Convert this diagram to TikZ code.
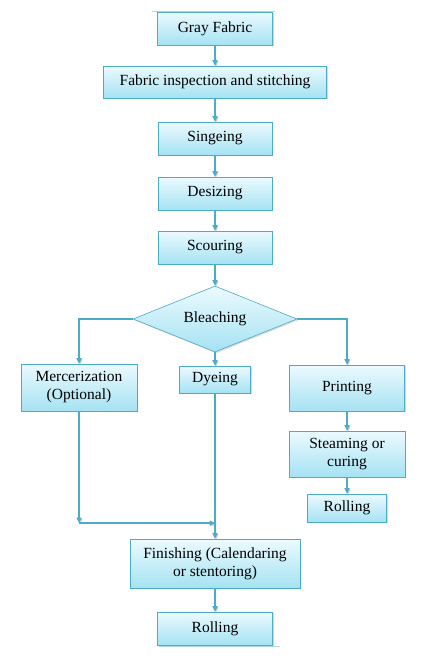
\documentclass[tikz,border=0pt]{standalone}
\usepackage{fontspec}
\setmainfont{Liberation Serif}
\usetikzlibrary{shapes.geometric,shadows,arrows.meta}
\definecolor{edge}{RGB}{75,172,198}
\definecolor{boxtop}{RGB}{236,250,254}
\definecolor{boxbot}{RGB}{165,226,243}
\tikzset{my box/.style args={#1 by #2}{draw=edge,semithick,align=center,top color=boxtop,bottom color=boxbot,inner sep=2pt,font=\fontsize{15.5}{18}\selectfont,drop shadow={shadow xshift=1.2pt,shadow yshift=-1.2pt,opacity=0.3},minimum width=#1,minimum height=#2},
my arrow/.style={-{Triangle[length=5.5pt,width=5pt]},draw=edge,line width=1.1pt,
  preaction={draw=black!22,line width=0.9pt,transform canvas={shift={(0.9pt,-0.9pt)}}}}}

\begin{document}
\begin{tikzpicture}[x=1pt,y=-1pt]
\useasboundingbox (0,0) rectangle (425,667);
\draw[edge!45] (152,11) -- (275,11);
\draw[edge!45] (159,646) -- (280,646);
% main column
\node[my box=115pt by 33pt] (gray) at (215,28.5) {Gray Fabric};
\node[my box=223pt by 32pt] (inspect) at (215,82) {Fabric inspection and stitching};
\node[my box=114pt by 33pt] (singe) at (215,138.5) {Singeing};
\node[my box=114pt by 33pt] (desize) at (215,193.5) {Desizing};
\node[my box=114pt by 33pt] (scour) at (215,247.5) {Scouring};
\node[my box=164pt by 66pt,diamond,aspect=2.5,inner sep=0pt] (bleach) at (215,319) {Bleaching};
% three branches
\node[my box=116pt by 47pt] (merc) at (79,387.5) {Mercerization\\(Optional)};
\node[my box=71pt by 27pt] (dye) at (215,379.5) {Dyeing};
\node[my box=115pt by 46pt] (print) at (347,388) {Printing};
\node[my box=116pt by 46pt] (steam) at (347,454) {Steaming or\\curing};
\node[my box=79pt by 28pt] (rollR) at (347,508) {Rolling};
\node[my box=170pt by 49pt] (finish) at (215,563.5) {Finishing (Calendaring\\or stentoring)};
\node[my box=115pt by 33pt] (roll) at (215,628.5) {Rolling};
\coordinate (mj) at (79,523);
\coordinate (join) at (dye |- mj);

\draw[my arrow] (gray) -- (inspect);
\draw[my arrow] (inspect) -- (singe);
\draw[my arrow] (singe) -- (desize);
\draw[my arrow] (desize) -- (scour);
\draw[my arrow] (scour) -- (bleach);
\draw[my arrow] (bleach.west) -| (merc.north);
\draw[my arrow] (bleach.east) -| (print.north);
\draw[my arrow] (bleach) -- (dye);
\draw[my arrow] (print) -- (steam);
\draw[my arrow] (steam) -- (rollR);
\draw[my arrow] (merc) -- (mj);
\draw[my arrow] (mj) -- (join);
\draw[my arrow] (dye) -- (finish);
\draw[my arrow] (finish) -- (roll);
\end{tikzpicture}
\end{document}
